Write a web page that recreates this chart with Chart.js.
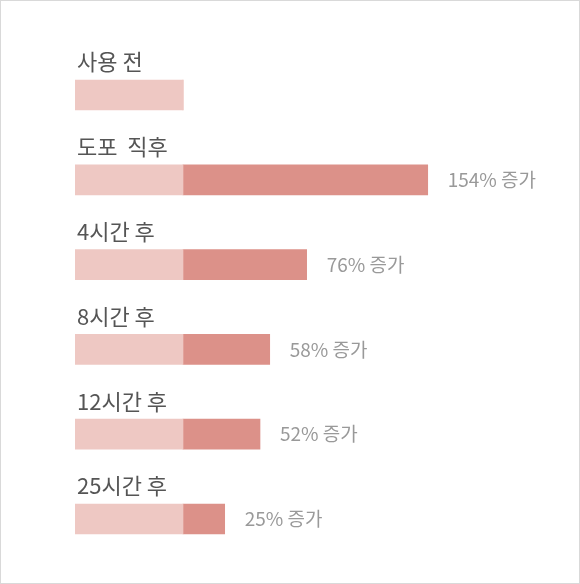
<!DOCTYPE html>
<html>
<head>
<meta charset="utf-8">
<script src="https://cdn.jsdelivr.net/npm/chart.js@4"></script>
<style>
    body { margin: 0; background: #fff; }
    #wrap { width: 580px; height: 584px; box-sizing: border-box; border: 1px solid #d9d9d9; background: #fff; }
    canvas { display: block; }
</style>
</head>
<body>
<div id="wrap"><canvas id="chart" width="578" height="582"></canvas></div>
<script>
// categories (time after application)
const categories = ["사용 전", "도포  직후", "4시간 후", "8시간 후", "12시간 후", "25시간 후"];
// before-use level, shown as 100 on every row
const baseValues = [100, 100, 100, 100, 100, 100];
// added length of the darker segment (base = 100)
const increaseValues = [0, 226.6, 114.5, 80.3, 71.3, 38.6];
// text printed after each bar
const increaseLabels = ["", "154% 증가", "76% 증가", "58% 증가", "52% 증가", "25% 증가"];

// draws the category names above the bars and the increase text after them
const labelPlugin = {
    id: "barLabels",
    afterDatasetsDraw(chart) {
        const ctx = chart.ctx;
        const meta0 = chart.getDatasetMeta(0);
        const meta1 = chart.getDatasetMeta(1);
        ctx.save();
        categories.forEach((name, i) => {
            const bar = meta0.data[i];
            const top = bar.y - bar.height / 2;
            ctx.fillStyle = "#555";
            ctx.font = "22px 'Noto Sans CJK KR'";
            ctx.textBaseline = "middle";
            ctx.textAlign = "left";
            ctx.fillText(name, bar.base + 2, top - 18);

            if (increaseLabels[i]) {
                const inc = meta1.data[i];
                ctx.fillStyle = "#999";
                ctx.font = "19px 'Noto Sans CJK KR'";
                ctx.fillText(increaseLabels[i], inc.x + 20, inc.y);
            }
        });
        ctx.restore();
    }
};

const ctx = document.getElementById("chart").getContext("2d");
new Chart(ctx, {
    type: "bar",
    data: {
        labels: categories,
        datasets: [
            {
                label: "사용 전",
                data: baseValues,
                backgroundColor: "#eec8c3",
                barThickness: 30
            },
            {
                label: "증가",
                data: increaseValues,
                backgroundColor: "#dc9189",
                barThickness: 30
            }
        ]
    },
    options: {
        indexAxis: "y",
        responsive: false,
        animation: false,
        layout: {
            padding: { left: 74, right: 72, top: 51.6, bottom: 21.6 }
        },
        scales: {
            x: { stacked: true, min: 0, max: 400, display: false },
            y: { stacked: true, display: false }
        },
        plugins: {
            legend: { display: false },
            tooltip: { enabled: false }
        }
    },
    plugins: [labelPlugin]
});
</script>
</body>
</html>
